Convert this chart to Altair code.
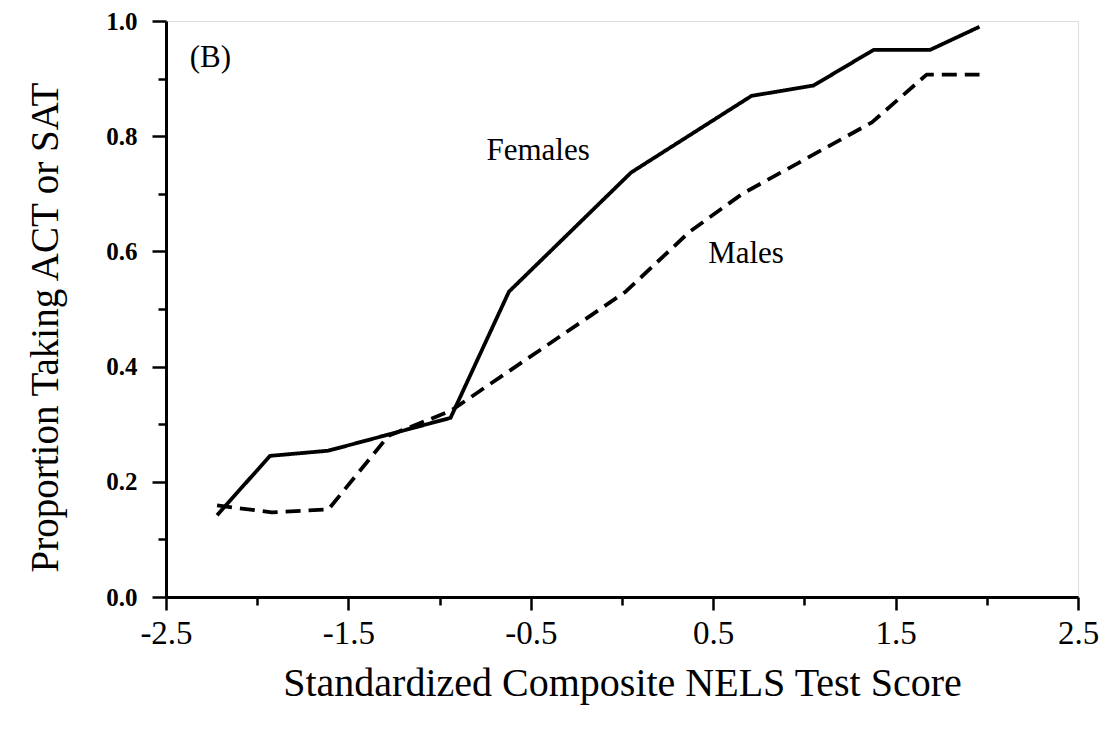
import altair as alt
import pandas as pd

fem_x = [-2.22, -1.93, -1.61, -0.94, -0.62, 0.05, 0.71, 1.05, 1.38, 1.69, 1.96]
fem_y = [0.142, 0.245, 0.254, 0.311, 0.530, 0.737, 0.870, 0.888, 0.950, 0.950, 0.99]
male_x = [-2.22, -1.92, -1.61, -1.28, -0.94, 0.02, 0.37, 0.66, 1.37, 1.67, 1.96]
male_y = [0.159, 0.147, 0.152, 0.280, 0.323, 0.530, 0.634, 0.700, 0.824, 0.907, 0.907]

labels = ["(B)", "Females", "Males"]
label_x = [-2.37, -0.46, 0.68]
label_y = [0.935, 0.775, 0.596]
label_align = ["left", "center", "center"]

df = pd.DataFrame({
    "x": fem_x + male_x,
    "y": fem_y + male_y,
    "series": ["Females"] * len(fem_x) + ["Males"] * len(male_x),
})
ann = pd.DataFrame({"x": label_x, "y": label_y, "text": labels, "align": label_align})

FONT = "Liberation Serif"

xs = alt.Scale(domain=[-2.5, 2.5], nice=False)
ys = alt.Scale(domain=[0, 1], nice=False)

x_major = "abs(round(datum.value*2)) % 2 == 1"
y_major = "round(datum.value*10) % 2 == 0"

xaxis = alt.Axis(
    title="Standardized Composite NELS Test Score",
    values=[-2.5, -2, -1.5, -1, -0.5, 0, 0.5, 1, 1.5, 2, 2.5],
    labelExpr=x_major + " ? (datum.value < 0 ? '-' : '') + format(abs(datum.value), '.1f') : ''",
    grid=False,
    tickSize={"condition": {"test": x_major, "value": 13}, "value": 8},
    tickWidth=2.5, tickColor="black",
    domainColor="black", domainWidth=3,
    labelFont=FONT, labelFontSize=33, labelColor="black", labelPadding=7,
    labelFlush=False, labelOverlap=False,
    titleFont=FONT, titleFontSize=40, titleFontWeight="normal", titleColor="black",
    titlePadding=13,
)
yaxis = alt.Axis(
    title="Proportion Taking ACT or SAT",
    values=[0, 0.1, 0.2, 0.3, 0.4, 0.5, 0.6, 0.7, 0.8, 0.9, 1.0],
    labelExpr=y_major + " ? format(datum.value, '.1f') : ''",
    grid=False,
    tickSize={"condition": {"test": y_major, "value": 14}, "value": 8},
    tickWidth=2.5, tickColor="black",
    domainColor="black", domainWidth=3,
    labelFont=FONT, labelFontSize=25, labelFontWeight="bold", labelColor="black",
    labelPadding=15, labelFlush=False, labelOverlap=False,
    titleFont=FONT, titleFontSize=39, titleFontWeight="normal", titleColor="black",
    titlePadding=40, titleY=306,
)

lines = alt.Chart(df).mark_line(color="black", strokeWidth=3.8, strokeCap="butt", strokeJoin="round").encode(
    x=alt.X("x:Q", scale=xs, axis=xaxis),
    y=alt.Y("y:Q", scale=ys, axis=yaxis),
    strokeDash=alt.StrokeDash("series:N", scale=alt.Scale(domain=["Females", "Males"], range=[[1, 0], [15, 8]]), legend=None),
    detail="series:N",
)

text_left = alt.Chart(ann[ann["align"] == "left"]).mark_text(
    font=FONT, fontSize=31, color="black", align="left", baseline="middle"
).encode(x=alt.X("x:Q", scale=xs), y=alt.Y("y:Q", scale=ys), text="text:N")

text_center = alt.Chart(ann[ann["align"] == "center"]).mark_text(
    font=FONT, fontSize=31, color="black", align="center", baseline="middle"
).encode(x=alt.X("x:Q", scale=xs), y=alt.Y("y:Q", scale=ys), text="text:N")

chart = alt.layer(lines, text_left, text_center).properties(
    width=912, height=576,
    autosize=alt.AutoSizeParams(type="none"),
    padding={"left": 158, "top": 13, "right": 24, "bottom": 124},
).configure_view(stroke="black", strokeWidth=3).configure(background="white")

chart.save("out.html", embed_options={"renderer": "svg", "actions": False})
